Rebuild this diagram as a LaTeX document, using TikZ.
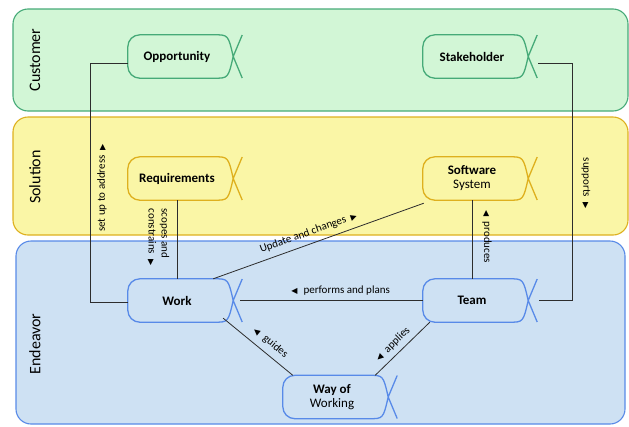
\documentclass[tikz,border=0pt]{standalone}
\usepackage{fontspec}
\setmainfont{Carlito}
\newfontfamily\trifont{DejaVu Sans}
\usepackage{tikz}
\usetikzlibrary{arrows.meta}
\usepackage{xcolor}
\definecolor{custfill}{RGB}{210, 246, 214}
\definecolor{custline}{RGB}{70, 170, 120}
\definecolor{solfill}{RGB}{250, 246, 166}
\definecolor{solline}{RGB}{222, 176, 30}
\definecolor{endfill}{RGB}{206, 225, 243}
\definecolor{endline}{RGB}{88, 138, 232}
\definecolor{linkgray}{RGB}{45, 45, 45}

\newcommand{\tri}[1]{{\trifont\fontsize{8}{8}\selectfont #1}}
\newcommand{\alphaline}[2]{%
  \draw[#2, line width=1.3pt]
    ([xshift=16,yshift=-21.5]#1.east) -- ([xshift=7]#1.east)
    .. controls ([xshift=2]#1.north east) .. ([xshift=-12]#1.north east)
    -- ([xshift=12]#1.north west) arc[start angle=90, end angle=180, radius=12pt]
    -- ([yshift=12]#1.south west) arc[start angle=180, end angle=270, radius=12pt]
    -- ([xshift=-12]#1.south east)
    .. controls ([xshift=2]#1.south east) .. ([xshift=7]#1.east)
    -- ([xshift=16,yshift=21.5]#1.east);
}

\begin{document}
\begin{tikzpicture}[x=1pt, y=-1pt, >=Latex,
    band/.style={rounded corners=15pt, line width=1.1pt},
    bandlbl/.style={rotate=90, font=\fontsize{16}{17}\selectfont},
    alphanode/.style={minimum width=98, minimum height=43, inner sep=0, align=center,
      font=\fontsize{13}{14}\selectfont\bfseries},
    conn/.style={linkgray, line width=0.8pt},
    lbl/.style={font=\fontsize{11}{13}\selectfont, text=black, inner sep=1pt}]
    \useasboundingbox (0,0) rectangle (629,426);

    % swimlanes
    \draw[band, fill=custfill, draw=custline] (13,9) rectangle (628,111);
    \draw[band, fill=solfill, draw=solline] (13,117) rectangle (628,235);
    \draw[band, fill=endfill, draw=endline] (16,241) rectangle (625,424);
    \node[bandlbl] (custlbl) at (35,60) {Customer};
    \node[bandlbl] (sollbl) at (35,177) {Solution};
    \node[bandlbl] (endlbl) at (35,344) {Endeavor};

    % alphas
    \node[alphanode] (opp) at (177,56.5) {Opportunity};
    \node[alphanode] (stake) at (472,56.5) {Stakeholder};
    \node[alphanode] (req) at (177,178.5) {Requirements};
    \node[alphanode] (sw) at (472,178.5) {Software\\{\mdseries System}};
    \node[alphanode] (work) at (177,300.5) {Work};
    \node[alphanode] (team) at (472,300.5) {Team};
    \node[alphanode] (wow) at (332,397) {Way of\\{\mdseries Working}};
    \alphaline{opp}{custline}
    \alphaline{stake}{custline}
    \alphaline{req}{solline}
    \alphaline{sw}{solline}
    \alphaline{work}{endline}
    \alphaline{team}{endline}
    \alphaline{wow}{endline}

    % relations
    \draw[conn] ([yshift=-6.5]opp.west) -- ++(-37,0) |- ([yshift=-1.5]work.west);
    \node[lbl, rotate=90] (setlbl) at (102,188) {set up to address\hspace{5pt}\tri{▶}};
    \draw[conn] ([xshift=17,yshift=-6.5]stake.east) -- ++(34,0) |- ([xshift=18]team.east);
    \node[lbl, rotate=-90] (suplbl) at (586,183) {supports\hspace{5pt}\tri{▶}};
    \draw[conn] (req.south) -- (work.north);
    \node[lbl, rotate=-90, align=left] (scopelbl) at (158.5,237) {scopes and\\constrains\hspace{5pt}\tri{▶}};
    \draw[conn] (sw.south) -- (team.north);
    \node[lbl, rotate=-90] (prodlbl) at (487,237) {\tri{◀}\hspace{5pt}produces};
    \draw[conn] ([xshift=-13]work.north east) -- node[lbl, sloped, above=5pt, pos=0.47] (updlbl)
      {Update and changes\hspace{5pt}\tri{▶}} ([xshift=1,yshift=-3]sw.south west);
    \draw[conn] ([xshift=14]work.east) -- node[lbl, above=4pt, pos=0.55] (perflbl)
      {\tri{◀}\hspace{6pt}performs and plans} (team.west);
    \draw[conn] ([xshift=-3,yshift=4]work.south east) -- node[lbl, sloped, above=5pt, pos=0.58] (guidelbl)
      {\tri{◀}\hspace{6pt}guides} ([xshift=10]wow.north west);
    \draw[conn] ([xshift=-6]wow.north east) -- node[lbl, sloped, above=4pt, pos=0.45] (applbl)
      {\tri{◀}\hspace{6pt}applies} ([xshift=7]team.south west);
\end{tikzpicture}
\end{document}
